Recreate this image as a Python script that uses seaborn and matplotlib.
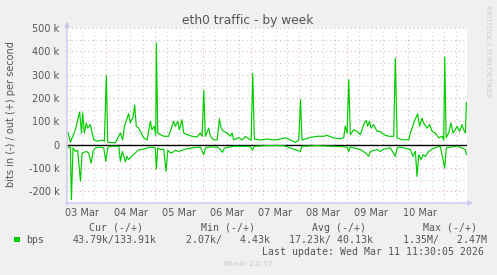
import numpy as np
import pandas as pd
import matplotlib
matplotlib.use("Agg")
import matplotlib.pyplot as plt
import matplotlib.transforms as mtransforms
from matplotlib.patches import Rectangle
import seaborn as sns

# ---- data (hours since 03 Mar 00:00, values in kbit/s) ----
out_hours = [4.9, 6.1, 8.6, 10.7, 11.6, 12.2, 13.0, 14.0, 14.7, 16.0, 16.9, 17.7, 19.4, 21.8, 23.0,
             24.0, 24.7, 28.5, 31.0, 32.1, 33.0, 35.1, 35.9, 37.3, 38.1, 38.9, 40.1, 40.9, 42.6, 44.3,
             45.9, 46.7, 47.9, 48.6, 48.9, 49.6, 50.9, 52.6, 55.0, 56.7, 57.5, 58.4, 59.6, 60.4, 61.7,
             62.5, 64.2, 66.7, 69.2, 70.8, 71.7, 72.5, 73.3, 75.0, 75.8, 77.5, 79.2, 80.3, 81.1, 82.4,
             84.1, 85.8, 86.6, 87.4, 89.9, 91.6, 93.2, 94.9, 96.1, 96.9, 97.7, 100.7, 104.1, 107.4,
             110.7, 113.1, 115.7, 118.2, 119.8, 120.7, 121.4, 125.6, 128.9, 132.2, 133.9, 137.2, 140.5,
             142.2, 143.0, 143.9, 144.7, 145.5, 147.2, 148.8, 150.5, 151.3, 152.5, 153.5, 154.1, 155.1,
             155.8, 157.1, 158.8, 160.4, 162.1, 164.6, 167.1, 167.9, 168.8, 171.3, 174.6, 175.4, 177.1,
             179.0, 180.0, 181.2, 182.0, 183.7, 185.0, 186.2, 187.8, 189.5, 191.2, 192.0, 192.5, 193.2,
             194.5, 195.6, 196.6, 197.8, 198.6, 199.9, 201.1, 201.9, 202.8, 203.3]
out_kbps = [53, 10, 64, 140, 50, 136, 50, 93, 71, 86, 50, 21, 15, 20, 15,
            296, 10, 8, 50, 20, 79, 133, 93, 119, 170, 79, 71, 57, 29, 20,
            100, 64, 79, 40, 436, 50, 43, 36, 36, 79, 100, 79, 100, 64, 107,
            50, 43, 36, 33, 50, 36, 233, 36, 71, 36, 21, 21, 111, 71, 57,
            50, 36, 50, 21, 30, 20, 35, 25, 20, 304, 24, 20, 24, 20,
            24, 30, 20, 10, 20, 193, 20, 31, 36, 36, 40, 29, 25,
            30, 79, 50, 279, 43, 64, 57, 43, 64, 93, 104, 79, 100,
            71, 86, 57, 57, 43, 36, 36, 371, 29, 21, 21, 50, 93,
            133, 79, 114, 93, 71, 86, 57, 50, 29, 36, 20, 376, 30,
            50, 93, 50, 64, 79, 57, 86, 64, 50, 181]

in_hours = [4.9, 6.1, 6.6, 7.4, 8.6, 9.7, 11.1, 11.9, 12.7, 14.0, 15.2, 16.4, 17.4, 18.5, 21.0,
            22.7, 23.7, 24.7, 26.0, 30.2, 31.0, 32.0, 33.5, 34.3, 35.1, 35.9, 37.3, 38.4, 39.6, 40.9,
            42.6, 45.9, 48.4, 48.9, 49.6, 50.9, 52.6, 53.7, 54.6, 55.9, 57.0, 58.4, 60.0, 61.7, 63.4,
            66.7, 70.8, 72.5, 73.3, 75.8, 79.2, 80.8, 81.8, 82.8, 85.8, 87.4, 95.7, 96.7, 97.7, 104.0,
            112.3, 120.6, 121.4, 128.9, 137.2, 143.9, 144.7, 145.5, 150.5, 153.2, 154.6, 155.5, 158.8,
            160.4, 162.1, 165.4, 167.9, 168.8, 170.4, 175.4, 176.7, 177.9, 178.7, 179.6, 180.7, 181.7,
            182.9, 184.5, 186.2, 188.7, 190.3, 192.5, 193.3, 195.3, 198.7, 201.1, 202.8, 203.3]
in_kbps = [-14, -7, -236, -14, -29, -24, -157, -36, -33, -29, -36, -79, -29, -14, -10,
           -14, -71, -14, -7, -7, -71, -29, -74, -50, -64, -57, -43, -36, -24, -21,
           -19, -10, -14, -104, -14, -21, -19, -114, -24, -36, -33, -24, -29, -24, -19,
           -14, -10, -43, -14, -10, -10, -21, -33, -14, -10, -7, -7, -24, -7, -4,
           -4, -29, -7, -4, -7, -10, -29, -10, -21, -36, -50, -29, -21,
           -29, -19, -14, -50, -14, -10, -21, -50, -29, -136, -43, -64, -43,
           -50, -29, -19, -10, -7, -100, -14, -10, -7, -14, -21, -43]

day_labels = ["03 Mar", "04 Mar", "05 Mar", "06 Mar", "07 Mar", "08 Mar", "09 Mar", "10 Mar"]
y_ticks = [-200, -100, 0, 100, 200, 300, 400, 500]

legend_name = "bps"
legend_heads = ["Cur (-/+)", "Min (-/+)", "Avg (-/+)", "Max (-/+)"]
legend_vals = ["43.79k/133.91k", "2.07k/   4.43k", "17.23k/ 40.13k", "1.35M/   2.47M"]
last_update = "Last update: Wed Mar 11 11:30:05 2026"

# ---- style ----
sns.set_style("white")
plt.rcParams['font.family'] = ['DejaVu Sans']

W, H = 497, 275
GREEN = "#00CC00"
TXT = "#555555"
fig = plt.figure(figsize=(W / 100, H / 100), dpi=100, facecolor="#F0F0F0")
ax = fig.add_axes([67 / W, 1 - 203 / H, 400 / W, 175 / H])
ax.set_facecolor("white")

df_out = pd.DataFrame({"hour": out_hours, "kbps": out_kbps})
df_in = pd.DataFrame({"hour": in_hours, "kbps": in_kbps})

ax.axhline(0, color="black", lw=1.0, zorder=2)
sns.lineplot(data=df_out, x="hour", y="kbps", ax=ax, color=GREEN, lw=0.85,
             estimator=None, sort=False, zorder=3)
sns.lineplot(data=df_in, x="hour", y="kbps", ax=ax, color=GREEN, lw=0.85,
             estimator=None, sort=False, zorder=3)

ax.set_xlim(4.4, 203.6)
ax.set_ylim(-250, 500)
ax.set_xlabel("")
ax.set_ylabel("")

# y ticks / grid
ax.set_yticks(y_ticks)
ax.set_yticklabels([("%d k" % v) if v != 0 else "0" for v in y_ticks])
ax.set_yticks(np.arange(-250, 501, 50), minor=True)
# x ticks / grid
midnights = [24 * (i + 1) for i in range(len(day_labels))]
ax.set_xticks(midnights)
ax.set_xticklabels([])
ax.set_xticks(np.arange(6, 204, 6), minor=True)

dot = (0, (1.0, 3.0))
ax.grid(which="major", color="#EBA8A8", lw=0.75, ls=dot, zorder=0)
ax.grid(which="minor", color="#C8C8C8", lw=0.75, ls=dot, zorder=0)
ax.set_axisbelow(True)

ax.tick_params(axis="y", which="both", length=2, width=0.6, color="#B8B8B8",
               labelsize=7, labelcolor=TXT, pad=3.5)
ax.tick_params(axis="x", which="both", length=2, width=0.6, color="#B8B8B8",
               labelsize=7, labelcolor=TXT)
for s in ax.spines.values():
    s.set_visible(False)

trans = mtransforms.blended_transform_factory(ax.transData, ax.transAxes)
for i, lab in enumerate(day_labels):
    ax.text(24 * i + 12, -0.03, lab, transform=trans, ha="center", va="top",
            fontsize=7, color=TXT)

# axis arrows
AX_COL = "#C8C8F0"
ax.annotate("", xy=(67, H - 19), xytext=(67, H - 207), xycoords="figure pixels",
            textcoords="figure pixels",
            arrowprops=dict(arrowstyle="-|>", color=AX_COL, lw=1, mutation_scale=7))
ax.annotate("", xy=(476, H - 203), xytext=(63, H - 203), xycoords="figure pixels",
            textcoords="figure pixels",
            arrowprops=dict(arrowstyle="-|>", color=AX_COL, lw=1, mutation_scale=7))

# titles
fig.text(248 / W, 1 - 24 / H, "eth0 traffic - by week", ha="center", va="baseline",
         fontsize=8.8, color=TXT)
fig.text(11 / W, 1 - 114.5 / H, "bits in (-) / out (+) per second", rotation=90,
         ha="center", va="center", fontsize=7, color=TXT)
fig.text(488 / W, 1 - 5 / H, "RRDTOOL / TOBI OETIKER", rotation=270, ha="center",
         va="top", fontsize=5.2, color="#CCCCCC")

# legend
mono = "DejaVu Sans Mono"
FS = 7.1
head_x = [89, 201, 312, 423]
val_x = [73, 186, 289, 403]
for x, t in zip(head_x, legend_heads):
    fig.text(x / W, 1 - 231 / H, t, ha="left", va="baseline", family=mono, fontsize=FS, color=TXT)
fig.patches.append(Rectangle((14 / W, 1 - 242 / H), 5.5 / W, 5.5 / H, transform=fig.transFigure,
                             facecolor=GREEN, edgecolor="none"))
fig.text(26.5 / W, 1 - 242.7 / H, legend_name, ha="left", va="baseline", family=mono,
         fontsize=FS, color=TXT)
for x, t in zip(val_x, legend_vals):
    fig.text(x / W, 1 - 242.7 / H, t, ha="left", va="baseline", family=mono, fontsize=FS, color=TXT)
fig.text(261.7 / W, 1 - 255 / H, last_update, ha="left", va="baseline", family=mono,
         fontsize=FS, color=TXT)
fig.text(248 / W, 1 - 266.5 / H, "Munin 2.0.57", ha="center", va="baseline",
         fontsize=5.3, color="#C8C8C8")

fig.savefig("out.png", dpi=100, facecolor=fig.get_facecolor())
